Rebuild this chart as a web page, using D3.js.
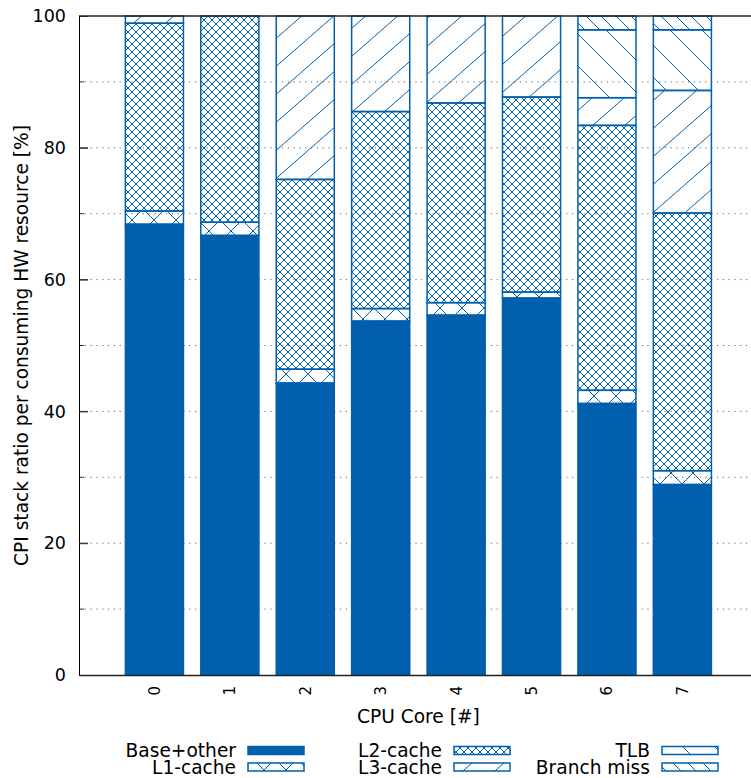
<!DOCTYPE html>
<html>
<head>
<meta charset="utf-8">
<script src="https://cdn.jsdelivr.net/npm/d3@7"></script>
<style>
  html, body { margin: 0; padding: 0; background: #fff; }
  svg { display: block; font-family: "DejaVu Sans", sans-serif; }
</style>
</head>
<body>
<svg id="chart" width="751" height="778"></svg>
<script>
// CPU cores on the x axis
const cores = ["0", "1", "2", "3", "4", "5", "6", "7"];

// CPI stack share per hardware resource, in percent (bottom to top)
const baseOther  = [68.4, 66.7, 44.3, 53.7, 54.6, 57.2, 41.2, 28.9];
const l1Cache    = [2.0, 2.0, 2.1, 1.9, 1.9, 0.9, 2.0, 2.1];
const l2Cache    = [28.5, 31.3, 28.8, 29.9, 30.3, 29.6, 40.2, 39.1];
const l3Cache    = [1.1, 0.0, 24.8, 14.5, 13.2, 12.3, 4.2, 18.6];
const tlb        = [0.0, 0.0, 0.0, 0.0, 0.0, 0.0, 10.3, 9.2];
const branchMiss = [0.0, 0.0, 0.0, 0.0, 0.0, 0.0, 2.1, 2.1];

const seriesNames = ["Base+other", "L1-cache", "L2-cache", "L3-cache", "TLB", "Branch miss"];
const seriesValues = [baseOther, l1Cache, l2Cache, l3Cache, tlb, branchMiss];

const yTicks = [0, 20, 40, 60, 80, 100];
const yGrid = [10, 20, 30, 40, 50, 60, 70, 80, 90];

const blue = "#0060ad";
const tickFont = 17.5;
const labelFont = 18.6;

const svg = d3.select("#chart");
const plotLeft = 79, plotRight = 757.8, plotTop = 16, plotBottom = 675;

const x = d3.scaleLinear().domain([-1, 8]).range([plotLeft, plotRight]);
const y = d3.scaleLinear().domain([0, 100]).range([plotBottom, plotTop]);
const barW = (x(1) - x(0)) * 0.77;

// Fill patterns, one per series
const defs = svg.append("defs");
function hatch(id, w, h, d) {
  const p = defs.append("pattern")
    .attr("id", id)
    .attr("patternUnits", "userSpaceOnUse")
    .attr("width", w).attr("height", h);
  p.append("path").attr("d", d)
    .attr("stroke", blue).attr("stroke-width", 1).attr("fill", "none");
}
// big cross-hatch
hatch("p-l1", 22, 22, "M-2,-2L24,24M-2,24L24,-2");
// fine cross-hatch
hatch("p-l2", 8, 8, "M-1,-1L9,9M-1,9L9,-1");
// wide forward hatch
hatch("p-l3", 32, 28, "M-32,56L64,-28M-32,28L32,-28M0,56L64,0");
// wide back hatch
hatch("p-tlb", 32, 32, "M-32,-32L64,64M-32,0L32,64M0,-32L64,32");
// dense back hatch
hatch("p-br", 15, 15, "M-15,-15L30,30M-15,0L15,30M0,-15L30,15");

const fills = [blue, "url(#p-l1)", "url(#p-l2)", "url(#p-l3)", "url(#p-tlb)", "url(#p-br)"];

// Background dotted grid
svg.append("g").selectAll("line")
  .data(yGrid)
  .join("line")
  .attr("x1", plotLeft).attr("x2", 751)
  .attr("y1", d => y(d)).attr("y2", d => y(d))
  .attr("stroke", "#666")
  .attr("stroke-width", 1)
  .attr("stroke-dasharray", "1.2,4.6");

// Tick marks on the inside of the left axis (major and minor)
svg.append("g").selectAll("line")
  .data(yGrid)
  .join("line")
  .attr("x1", plotLeft).attr("x2", d => plotLeft + (d % 20 === 0 ? 9 : 5))
  .attr("y1", d => y(d)).attr("y2", d => y(d))
  .attr("stroke", "#333").attr("stroke-width", 1);

// Stacked bars
const table = cores.map((c, i) => {
  const row = { core: c, idx: i };
  seriesNames.forEach((n, k) => { row[n] = seriesValues[k][i]; });
  return row;
});
const stacked = d3.stack().keys(seriesNames)(table);

stacked.forEach((layer, k) => {
  svg.append("g")
    .selectAll("rect")
    .data(layer.filter(d => d[1] - d[0] > 0))
    .join("rect")
    .attr("x", d => x(d.data.idx) - barW / 2)
    .attr("width", barW)
    .attr("y", d => y(d[1]))
    .attr("height", d => y(d[0]) - y(d[1]))
    .attr("fill", fills[k])
    .attr("stroke", blue)
    .attr("stroke-width", 1.5);
});

// Axes
const yAxis = svg.append("g")
  .attr("transform", `translate(${plotLeft},0)`)
  .call(d3.axisLeft(y).tickValues(yTicks).tickSizeInner(-9).tickSizeOuter(0).tickPadding(13));
yAxis.select(".domain").attr("stroke", "#000");
yAxis.selectAll(".tick line").attr("stroke", "#333");
yAxis.selectAll("text").attr("font-size", tickFont).attr("fill", "#000")
  .attr("font-family", "DejaVu Sans");

const xAxis = svg.append("g")
  .attr("transform", `translate(0,${plotBottom})`)
  .call(d3.axisBottom(x).tickValues(cores.map((c, i) => i)).tickSize(0).tickFormat(""));
xAxis.select(".domain").attr("stroke", "#222").attr("stroke-width", 1.5);

// Top border
svg.append("line")
  .attr("x1", plotLeft).attr("x2", 751)
  .attr("y1", plotTop).attr("y2", plotTop)
  .attr("stroke", "#222").attr("stroke-width", 1.5);

// Rotated core labels
svg.append("g").selectAll("text")
  .data(cores)
  .join("text")
  .attr("transform", (d, i) => `translate(${x(i)},686) rotate(-90)`)
  .attr("text-anchor", "end")
  .attr("dy", "0.36em")
  .attr("font-size", 15)
  .text(d => d);

// Axis titles
svg.append("text")
  .attr("x", (plotLeft + plotRight) / 2).attr("y", 723)
  .attr("text-anchor", "middle")
  .attr("font-size", labelFont)
  .text("CPU Core [#]");

svg.append("text")
  .attr("transform", `translate(27.5,${(plotTop + plotBottom) / 2}) rotate(-90)`)
  .attr("text-anchor", "middle")
  .attr("font-size", labelFont)
  .text("CPI stack ratio per consuming HW resource [%]");

// Legend: three columns, two rows
const legendCols = [236, 442, 650];
const legendRows = [750.5, 767];
const legend = svg.append("g");
seriesNames.forEach((name, k) => {
  const col = Math.floor(k / 2), row = k % 2;
  const tx = legendCols[col], ty = legendRows[row];
  legend.append("text")
    .attr("x", tx).attr("y", ty)
    .attr("dy", "0.35em")
    .attr("text-anchor", "end")
    .attr("font-size", labelFont)
    .text(name);
  legend.append("rect")
    .attr("x", tx + 12).attr("y", ty - 4)
    .attr("width", 56).attr("height", 8)
    .attr("fill", fills[k])
    .attr("stroke", blue)
    .attr("stroke-width", 1.5);
});
</script>
</body>
</html>
